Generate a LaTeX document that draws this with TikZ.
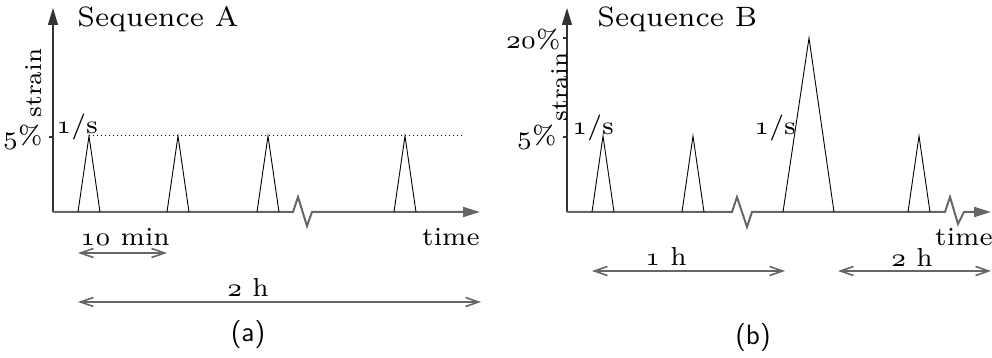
\documentclass[tikz,border=0pt]{standalone}
\usepackage{fontspec}
\usetikzlibrary{arrows.meta}
\newfontfamily\lmseven{lmroman7-regular.otf}
\font\osnfont=cmmi7 at 13pt
\newcommand\osn[1]{{\osnfont #1}}
\begin{document}
\begin{tikzpicture}[x=0.5pt,y=-0.5pt,
  axisx/.style={draw=black!60, line width=1pt, line join=miter},
  axisy/.style={draw=black!80, line width=0.6pt},
  peak/.style={draw=black, line width=0.45pt},
  dotline/.style={draw=black, line width=0.5pt, dash pattern=on 0.5pt off 1.5pt},
  dimline/.style={draw=black!60, line width=0.8pt, {Straight Barb[length=6.5pt,width=4.5pt]}-{Straight Barb[length=6.5pt,width=4.5pt]}},
  axhead/.style={-{Triangle[length=8.5pt,width=5pt]}},
  lbl/.style={font=\lmseven\fontsize{13}{15}\selectfont, inner sep=0pt},
  vlbl/.style={font=\lmseven\fontsize{12}{14}\selectfont, inner sep=0pt, rotate=90, anchor=south},
  ttl/.style={font=\lmseven\fontsize{14}{17}\selectfont, inner sep=0pt},
  subcap/.style={font=\sffamily\fontsize{14}{16}\selectfont, inner sep=0pt}]
\useasboundingbox (0,0) rectangle (992,358);

% ---------------- Panel A ----------------
\coordinate (Ao) at (53,212);
\coordinate (Ay) at (53,8);
\coordinate (Ax) at (480,212);
\draw[axisy, axhead] (Ao) -- (Ay);
\draw[axisx, axhead] (Ao) -- (293,212) -- (298,197) -- (307,226) -- (312,212) -- (Ax);
\coordinate (At5) at (49,137);
\coordinate (At5b) at (53,137);
\draw[axisy] (At5) -- (At5b);
\foreach \x [count=\i] in {78,167,257,394}{
  \coordinate (Ap\i) at (\x+11,136);
  \draw[peak] (\x,212) -- (Ap\i) -- (\x+22,212);
}
\coordinate (Adot) at (462,136);
\draw[dotline] (Ap1) -- (Adot);

\node[ttl, anchor=base west] (titleA) at (77,27) {Sequence A};
\node[vlbl] (strainA) at (42,83) {strain};
\node[lbl] (rateA) at (77,127) {\osn{1}/s};
\node[lbl, anchor=east] (pctA) at (43,137) {\osn{5}\%};
\node[lbl] (timeA) at (451,237) {time};
\node[lbl] (tenmin) at (125,237) {\osn{10} min};
\coordinate (dA1l) at (78,253);
\coordinate (dA1r) at (167,253);
\draw[dimline] (dA1l) -- (dA1r);
\node[lbl] (twohA) at (248,287) {\osn{2} h};
\coordinate (dA2l) at (78,302);
\coordinate (dA2r) at (481,302);
\draw[dimline] (dA2l) -- (dA2r);
\node[subcap] (capA) at (248,335) {(a)};

% ---------------- Panel B ----------------
\coordinate (Bo) at (567,212);
\coordinate (By) at (567,8);
\coordinate (Bx) at (991,212);
\draw[axisy, axhead] (Bo) -- (By);
\draw[axisx, axhead] (Bo) -- (732,212) -- (737,197) -- (747,227) -- (752,212)
   -- (945,212) -- (950,197) -- (958,224) -- (964,212) -- (Bx);
\coordinate (Bt5) at (563,137);
\coordinate (Bt5b) at (567,137);
\draw[axisy] (Bt5) -- (Bt5b);
\coordinate (Bt20) at (563,38);
\coordinate (Bt20b) at (567,38);
\draw[axisy] (Bt20) -- (Bt20b);
\foreach \x [count=\i] in {592,682,908}{
  \coordinate (Bp\i) at (\x+11,136);
  \draw[peak] (\x,212) -- (Bp\i) -- (\x+22,212);
}
\coordinate (Bbig) at (809,38);
\draw[peak] (783,212) -- (Bbig) -- (834,212);

\node[ttl, anchor=base west] (titleB) at (597,27) {Sequence B};
\node[vlbl] (strainB) at (568,87) {strain};
\node[lbl] (rateB1) at (593,128) {\osn{1}/s};
\node[lbl] (rateB2) at (775,128) {\osn{1}/s};
\node[lbl, anchor=east] (pctB5) at (557,137) {\osn{5}\%};
\node[lbl, anchor=east] (pctB20) at (561,39) {\osn{20}\%};
\node[lbl] (timeB) at (964,237) {time};
\node[lbl] (onehB) at (666,256) {\osn{1} h};
\coordinate (dB1l) at (592,271);
\coordinate (dB1r) at (785,271);
\draw[dimline] (dB1l) -- (dB1r);
\node[lbl] (twohB) at (912,257) {\osn{2} h};
\coordinate (dB2l) at (838,271);
\coordinate (dB2r) at (991,271);
\draw[dimline] (dB2l) -- (dB2r);
\node[subcap] (capB) at (753,338) {(b)};
\end{tikzpicture}
\end{document}
